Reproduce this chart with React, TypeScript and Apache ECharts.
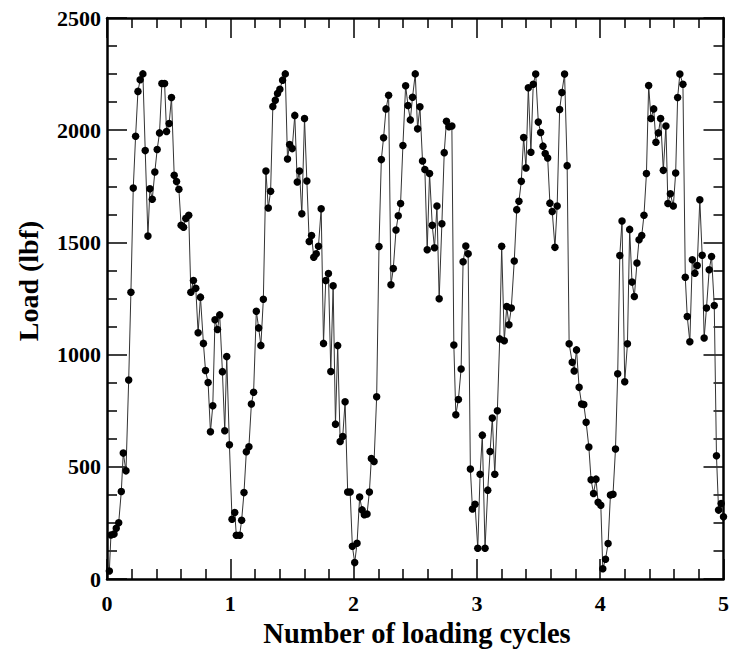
import React, { useEffect, useRef } from "react";
import * as echarts from "echarts";

// Loading cycle count (x) and measured load in lbf (y) for each sample
const cycles = [
  0.019, 0.032, 0.057, 0.075, 0.095, 0.116, 0.132, 0.154, 0.176, 0.194,
  0.213, 0.232, 0.251, 0.269, 0.291, 0.31, 0.332, 0.348, 0.367, 0.388,
  0.407, 0.426, 0.445, 0.467, 0.483, 0.504, 0.523, 0.545, 0.564, 0.583,
  0.601, 0.621, 0.639, 0.663, 0.68, 0.701, 0.72, 0.739, 0.758, 0.782,
  0.799, 0.82, 0.839, 0.858, 0.876, 0.896, 0.914, 0.936, 0.955, 0.971,
  0.993, 1.014, 1.036, 1.049, 1.076, 1.092, 1.111, 1.13, 1.151, 1.171,
  1.189, 1.211, 1.23, 1.248, 1.268, 1.289, 1.308, 1.327, 1.345, 1.365,
  1.383, 1.402, 1.424, 1.446, 1.464, 1.481, 1.502, 1.523, 1.543, 1.561,
  1.58, 1.602, 1.621, 1.64, 1.659, 1.677, 1.697, 1.715, 1.737, 1.756,
  1.774, 1.796, 1.815, 1.834, 1.853, 1.871, 1.891, 1.912, 1.931, 1.952,
  1.972, 1.99, 2.009, 2.028, 2.049, 2.069, 2.087, 2.109, 2.128, 2.144,
  2.166, 2.187, 2.206, 2.225, 2.243, 2.263, 2.284, 2.303, 2.322, 2.344,
  2.362, 2.381, 2.4, 2.422, 2.441, 2.46, 2.478, 2.5, 2.519, 2.538,
  2.559, 2.578, 2.597, 2.616, 2.638, 2.656, 2.676, 2.694, 2.716, 2.735,
  2.753, 2.773, 2.797, 2.813, 2.829, 2.85, 2.872, 2.888, 2.91, 2.929,
  2.947, 2.964, 2.985, 3.007, 3.026, 3.044, 3.066, 3.088, 3.107, 3.125,
  3.145, 3.166, 3.185, 3.201, 3.222, 3.242, 3.26, 3.279, 3.303, 3.323,
  3.341, 3.36, 3.379, 3.398, 3.417, 3.438, 3.457, 3.477, 3.498, 3.517,
  3.536, 3.554, 3.574, 3.592, 3.611, 3.633, 3.651, 3.671, 3.689, 3.711,
  3.732, 3.748, 3.773, 3.789, 3.808, 3.829, 3.849, 3.867, 3.886, 3.908,
  3.926, 3.946, 3.966, 3.983, 4.005, 4.021, 4.043, 4.064, 4.083, 4.104,
  4.124, 4.142, 4.159, 4.177, 4.199, 4.221, 4.239, 4.258, 4.277, 4.298,
  4.315, 4.337, 4.355, 4.375, 4.393, 4.412, 4.434, 4.452, 4.472, 4.49,
  4.512, 4.533, 4.549, 4.569, 4.593, 4.612, 4.628, 4.646, 4.671, 4.69,
  4.706, 4.727, 4.747, 4.768, 4.787, 4.808, 4.827, 4.843, 4.862, 4.884,
  4.903, 4.925, 4.943, 4.96, 4.981, 5.0,
];

const loads = [
  36, 196, 200, 226, 251, 390, 561, 482, 887, 1278,
  1742, 1973, 2173, 2225, 2251, 1909, 1528, 1739, 1692, 1814,
  1914, 1988, 2208, 2208, 1994, 2030, 2146, 1799, 1771, 1737,
  1576, 1568, 1607, 1621, 1278, 1330, 1296, 1097, 1256, 1050,
  929, 876, 656, 772, 1155, 1112, 1177, 924, 661, 991,
  598, 266, 296, 195, 195, 262, 385, 567, 589, 780,
  832, 1193, 1119, 1041, 1247, 1818, 1653, 1728, 2106, 2134,
  2164, 2182, 2223, 2251, 1872, 1936, 1918, 2066, 1769, 1818,
  1628, 2052, 1774, 1504, 1531, 1434, 1449, 1483, 1650, 1050,
  1330, 1361, 925, 1307, 690, 1040, 613, 635, 790, 388,
  388, 146, 73, 159, 365, 308, 286, 290, 388, 537,
  524, 812, 1482, 1869, 1966, 2095, 2156, 1311, 1384, 1555,
  1619, 1673, 1932, 2198, 2110, 2046, 2147, 2251, 2006, 2104,
  1863, 1825, 1467, 1807, 1576, 1476, 1662, 1249, 1583, 1900,
  2040, 2015, 2019, 1043, 732, 800, 936, 1414, 1484, 1449,
  490, 312, 333, 137, 467, 641, 137, 396, 568, 717,
  467, 750, 1070, 1483, 1062, 1214, 1133, 1208, 1417, 1646,
  1683, 1772, 1967, 1832, 2189, 1902, 2205, 2250, 2036, 1990,
  1929, 1896, 1876, 1675, 1638, 1478, 1662, 2092, 2168, 2250,
  1842, 1048, 966, 927, 1021, 854, 780, 778, 698, 588,
  442, 381, 445, 342, 329, 46, 88, 158, 374, 378,
  579, 915, 1442, 1595, 879, 1048, 1558, 1323, 1259, 1408,
  1512, 1531, 1621, 1807, 2199, 2052, 2095, 1946, 1988, 2052,
  1821, 2019, 1673, 1717, 1662, 1809, 2146, 2250, 2205, 1345,
  1170, 1057, 1423, 1363, 1397, 1690, 1443, 1074, 1208, 1378,
  1437, 1219, 549, 307, 336, 277,
];

const xTicks = ["0", "1", "2", "3", "4", "5"];
const yTicks = ["0", "500", "1000", "1500", "2000", "2500"];

const FONT = "'Liberation Serif', 'Times New Roman', serif";

export default function App() {
  const ref = useRef<HTMLDivElement>(null);

  useEffect(() => {
    if (!ref.current) return;
    const chart = echarts.init(ref.current, undefined, { renderer: "svg" });

    const frameLine = { show: true, onZero: false, lineStyle: { color: "#000", width: 2.5 } };
    const majorTick = { show: true, inside: true, length: 20, lineStyle: { color: "#000", width: 1.5 } };
    const labelStyle = { fontFamily: FONT, fontWeight: "bold" as const, fontSize: 22, color: "#000" };

    const xBase = {
      type: "value" as const,
      min: 0,
      max: 5,
      interval: 1,
      axisLine: frameLine,
      axisTick: majorTick,
      minorTick: { show: true, splitNumber: 5, length: 10, lineStyle: { color: "#000", width: 1.5 } },
      splitLine: { show: false },
      minorSplitLine: { show: false },
    };
    const yBase = {
      type: "value" as const,
      min: 0,
      max: 2500,
      interval: 500,
      axisLine: frameLine,
      axisTick: majorTick,
      minorTick: { show: true, splitNumber: 4, length: 10, lineStyle: { color: "#000", width: 1.5 } },
      splitLine: { show: false },
      minorSplitLine: { show: false },
    };

    chart.setOption({
      animation: false,
      backgroundColor: "#fff",
      grid: { left: 107, right: 7, top: 18, bottom: 73, containLabel: false },
      xAxis: [
        {
          ...xBase,
          position: "bottom",
          axisLabel: {
            ...labelStyle,
            margin: 13,
            formatter: (v: number) => xTicks[Math.round(v)] ?? String(v),
          },
        },
        { ...xBase, position: "top", axisLabel: { show: false } },
      ],
      yAxis: [
        {
          ...yBase,
          position: "left",
          axisLabel: {
            ...labelStyle,
            margin: 6,
            formatter: (v: number) => yTicks[Math.round(v / 500)] ?? String(v),
          },
        },
        { ...yBase, position: "right", axisLabel: { show: false } },
      ],
      graphic: [
        {
          type: "text",
          x: 417,
          y: 633,
          style: {
            text: "Number of loading cycles",
            fontFamily: FONT,
            fontWeight: "bold",
            fontSize: 28.5,
            fill: "#000",
            align: "center",
            verticalAlign: "middle",
          },
        },
        {
          type: "text",
          x: 28,
          y: 281,
          rotation: Math.PI / 2,
          style: {
            text: "Load (lbf)",
            fontFamily: FONT,
            fontWeight: "bold",
            fontSize: 28,
            fill: "#000",
            align: "center",
            verticalAlign: "middle",
          },
        },
      ],
      series: [
        {
          type: "line",
          xAxisIndex: 0,
          yAxisIndex: 0,
          data: cycles.map((c, i) => [c, loads[i]]),
          symbol: "circle",
          symbolSize: 7.5,
          showSymbol: true,
          itemStyle: { color: "#000" },
          lineStyle: { color: "#333", width: 1 },
          clip: false,
        },
      ],
    });

    return () => chart.dispose();
  }, []);

  return (
    <div
      ref={ref}
      style={{ position: "fixed", left: 0, top: 0, width: 732, height: 652, background: "#fff" }}
    />
  );
}
